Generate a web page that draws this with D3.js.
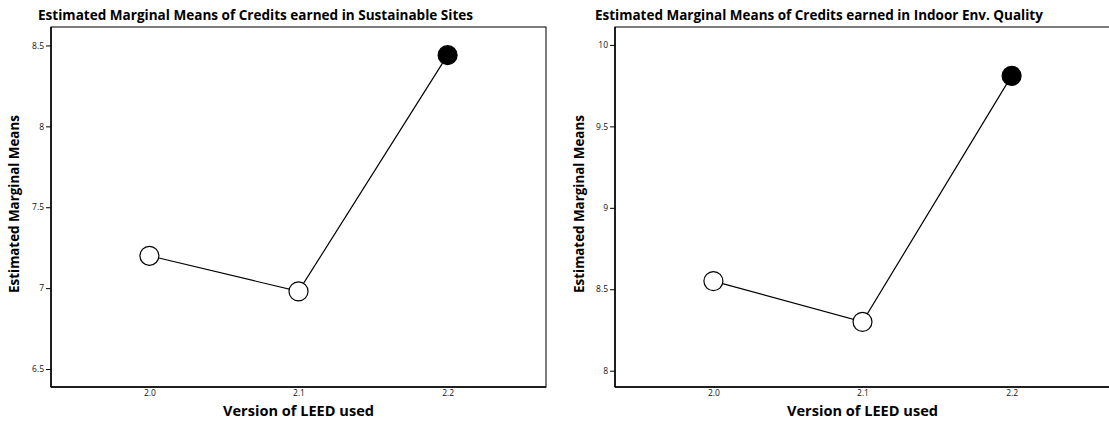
<!DOCTYPE html>
<html><head><meta charset="utf-8">
<script src="https://cdn.jsdelivr.net/npm/d3@7"></script>
<style>body{margin:0;background:#fff}svg{display:block}</style>
</head><body>
<svg id="c" width="1109" height="428"></svg>
<script>
const versions = ["2.0", "2.1", "2.2"];
const versionValues = [2.0, 2.1, 2.2];
const sitesMeans = [7.20, 6.98, 8.44];
const ieqMeans = [8.55, 8.30, 9.81];
const sitesTicks = [6.5, 7, 7.5, 8, 8.5];
const ieqTicks = [8, 8.5, 9, 9.5, 10];
const titles = ["Estimated Marginal Means of Credits earned in Sustainable Sites",
                "Estimated Marginal Means of Credits earned in Indoor Env. Quality"];
const yTitle = "Estimated Marginal Means";
const xTitle = "Version of LEED used";

const svg = d3.select("#c");
const TF = "'Open Sans', 'DejaVu Sans', sans-serif";

function fit(sel, target) {
  const n = sel.node();
  const fs = parseFloat(sel.attr("font-size"));
  const L = n.getComputedTextLength();
  sel.attr("font-size", (fs * target / L).toFixed(2));
}

const panels = [
  {dx: 0, means: sitesMeans, ticks: sitesTicks, dom: [6.389, 8.614], title: titles[0], tx: 38, tw: 435, clipRight: false},
  {dx: 564, means: ieqMeans, ticks: ieqTicks, dom: [7.90, 10.11], title: titles[1], tx: 595, tw: 448, clipRight: true}
];

panels.forEach(p => {
  const g = svg.append("g").attr("transform", `translate(${p.dx},0)`);
  const L = 51, R = 546, T = 27, B = 387;
  const x = d3.scaleLinear().domain([1.934, 2.266]).range([L, R]);
  const y = d3.scaleLinear().domain(p.dom).range([B, T]);

  // frame
  g.append("rect").attr("x", L).attr("y", T).attr("width", R - L).attr("height", B - T)
    .attr("fill", "none").attr("stroke", "#111").attr("stroke-width", 1.1);
  g.append("line").attr("x1", L).attr("x2", L).attr("y1", T).attr("y2", B).attr("stroke", "#000").attr("stroke-width", 1.5);
  g.append("line").attr("x1", L).attr("x2", R).attr("y1", B).attr("y2", B).attr("stroke", "#000").attr("stroke-width", 1.5);

  // y axis
  const ya = d3.axisLeft(y).tickValues(p.ticks).tickSize(5).tickPadding(2).tickFormat(d3.format("~g"));
  const yg = g.append("g").attr("transform", `translate(${L},0)`).call(ya);
  yg.select(".domain").remove();
  yg.selectAll("line").attr("stroke", "#000");
  yg.selectAll("text").attr("font-family", TF).attr("font-size", 8.5).attr("fill", "#111");

  // x axis (labels only)
  const xa = d3.axisBottom(x).tickValues(versionValues).tickSize(0).tickPadding(3)
    .tickFormat((d, i) => versions[i]);
  const xg = g.append("g").attr("transform", `translate(0,${B})`).call(xa);
  xg.select(".domain").remove();
  xg.selectAll("text").attr("font-family", TF).attr("font-size", 8.5).attr("fill", "#111");

  // line
  const line = d3.line().x((d, i) => x(versionValues[i])).y(d => y(d));
  g.append("path").datum(p.means).attr("d", line).attr("fill", "none")
    .attr("stroke", "#000").attr("stroke-width", 1.2);

  // markers
  g.selectAll("circle.pt").data(p.means).join("circle").attr("class", "pt")
    .attr("cx", (d, i) => x(versionValues[i])).attr("cy", d => y(d)).attr("r", 9.5)
    .attr("fill", (d, i) => i === 2 ? "#000" : "#fff")
    .attr("stroke", "#000").attr("stroke-width", 1.2);

  // titles
  const t = svg.append("text").attr("x", p.tx).attr("y", 20).attr("font-family", TF)
    .attr("font-weight", "bold").attr("font-size", 12).attr("fill", "#000").text(p.title);
  fit(t, p.tw);

  const yt = g.append("text").attr("transform", `translate(${p.dx === 0 ? 19 : 20},${204}) rotate(-90)`)
    .attr("text-anchor", "middle").attr("font-family", TF).attr("font-weight", "bold")
    .attr("font-size", 12).attr("fill", "#000").text(yTitle);
  fit(yt, 178);

  const xt = g.append("text").attr("x", (L + R) / 2).attr("y", 416).attr("text-anchor", "middle")
    .attr("font-family", TF).attr("font-weight", "bold").attr("font-size", 12).attr("fill", "#000").text(xTitle);
  fit(xt, 151);
});
</script>
</body></html>
